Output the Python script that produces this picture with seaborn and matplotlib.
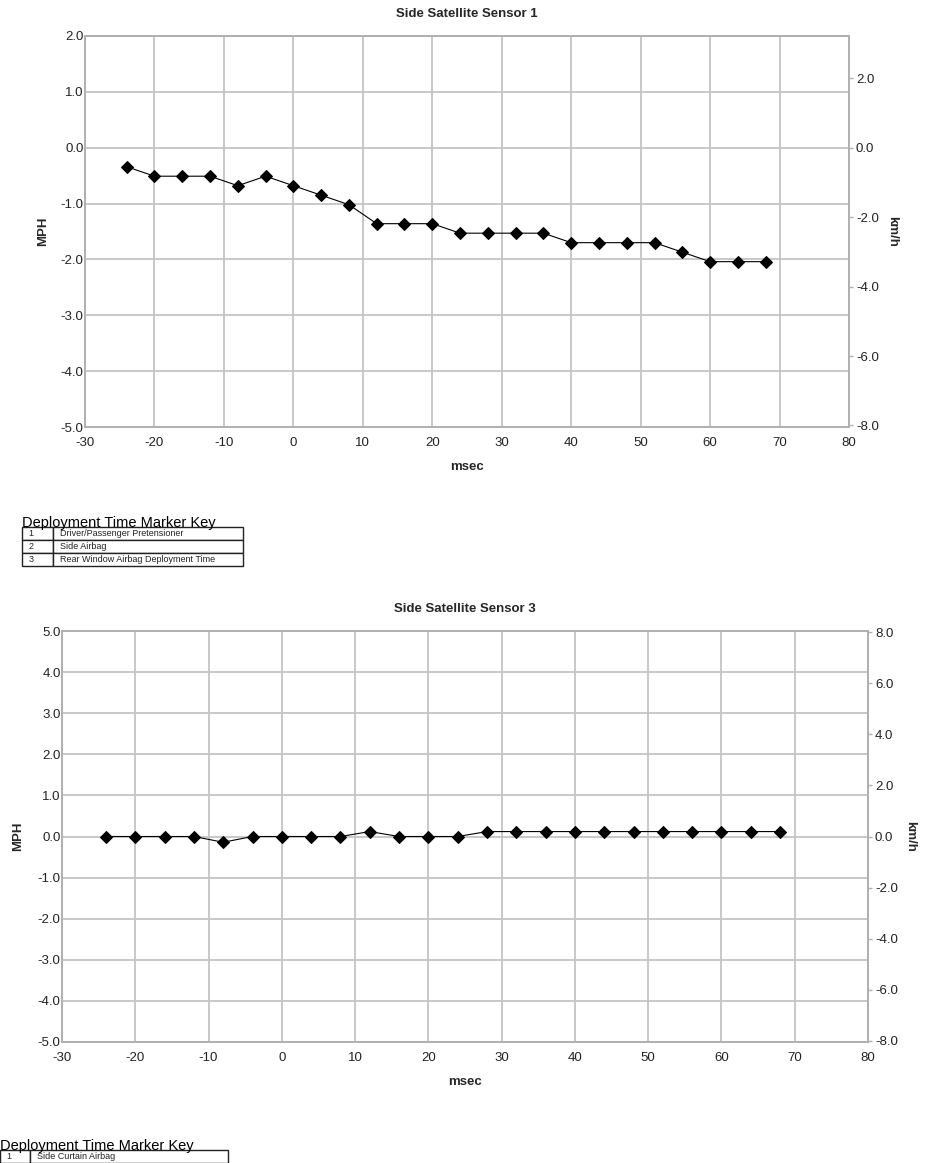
import matplotlib
matplotlib.use("Agg")
import matplotlib.pyplot as plt
import numpy as np
import pandas as pd
import seaborn as sns

# time axis shared by both sensors (msec)
msec = [-24, -20, -16, -12, -8, -4, 0, 4, 8, 12, 16, 20,
        24, 28, 32, 36, 40, 44, 48, 52, 56, 60, 64, 68]

# delta-V readings in MPH
sensor1_mph = [-0.34, -0.51, -0.51, -0.51, -0.68, -0.51, -0.68, -0.85,
               -1.02, -1.36, -1.36, -1.36, -1.53, -1.53, -1.53, -1.53,
               -1.70, -1.70, -1.70, -1.70, -1.87, -2.04, -2.04, -2.04]
sensor3_mph = [0.0, 0.0, 0.0, 0.0, -0.14, 0.0, 0.0, 0.0,
               0.0, 0.12, 0.0, 0.0, 0.0, 0.12, 0.12, 0.12,
               0.12, 0.12, 0.12, 0.12, 0.12, 0.12, 0.12, 0.12]

x_ticks = [-30, -20, -10, 0, 10, 20, 30, 40, 50, 60, 70, 80]
s1_mph_ticks = [2, 1, 0, -1, -2, -3, -4, -5]
s1_kmh_ticks = [2, 0, -2, -4, -6, -8]
s3_mph_ticks = [5, 4, 3, 2, 1, 0, -1, -2, -3, -4, -5]
s3_kmh_ticks = [8, 6, 4, 2, 0, -2, -4, -6, -8]

key1 = [["1", "Driver/Passenger Pretensioner"],
        ["2", "Side Airbag"],
        ["3", "Rear Window Airbag Deployment Time"]]
key3 = [["1", "Side Curtain Airbag"]]

MPH_TO_KMH = 1.609

sns.set_style("white")
plt.rcParams['font.family'] = ['Liberation Sans', 'DejaVu Sans']
plt.rcParams['axes.unicode_minus'] = False

W, H = 927, 1163
fig = plt.figure(figsize=(W / 100, H / 100), dpi=100)


def px_axes(left, top, right, bottom):
    return fig.add_axes([left / W, 1 - bottom / H, (right - left) / W, (bottom - top) / H])


GRID = '#c4c4c4'
TXT = '#222222'


def sensor_panel(rect, title, values, mph_lim, mph_ticks, kmh_ticks, ylab_pad, rlab_pad):
    ax = px_axes(*rect)
    df = pd.DataFrame({'msec': msec, 'mph': values})
    sns.lineplot(data=df, x='msec', y='mph', ax=ax, color='black', linewidth=0.8,
                 marker='D', markersize=6, markeredgecolor='black')
    ax.set_xlim(-30, 80)
    ax.set_ylim(*mph_lim)
    ax.set_xticks(x_ticks)
    ax.set_yticks(mph_ticks)
    ax.set_yticklabels([f"{v:.1f}" for v in mph_ticks])
    ax.grid(True, color=GRID, linewidth=1.3)
    ax.set_axisbelow(True)
    for s in ax.spines.values():
        s.set_color('#b0b0b0')
        s.set_linewidth(1.2)
    ax.tick_params(axis='x', length=0, pad=7, labelsize=9.5, labelcolor=TXT)
    ax.tick_params(axis='y', length=0, pad=1, labelsize=9.5, labelcolor=TXT)
    ax.set_xlabel('msec', fontsize=9.5, fontweight='bold', labelpad=9)
    ax.set_ylabel('MPH', fontsize=9.5, fontweight='bold', labelpad=ylab_pad)
    ax.set_title(title, fontsize=9.5, fontweight='bold', pad=14)

    ax2 = ax.twinx()
    ax2.set_ylim(mph_lim[0] * MPH_TO_KMH, mph_lim[1] * MPH_TO_KMH)
    ax2.set_yticks(kmh_ticks)
    ax2.set_yticklabels([f"{v:.1f}" for v in kmh_ticks])
    ax2.tick_params(axis='y', length=3, width=1, color='#b0b0b0', pad=2,
                    labelsize=9.5, labelcolor=TXT)
    for s in ax2.spines.values():
        s.set_color('#b0b0b0')
        s.set_linewidth(1.2)
    ax2.set_ylabel('km/h', fontsize=9.5, fontweight='bold', rotation=270, labelpad=rlab_pad)
    return ax


def marker_key(left, top, right, bottom, col1_frac, rows):
    fig.text(left / W, 1 - top / H, 'Deployment Time Marker Key',
             fontsize=10.5, va='baseline', ha='left', color='black')
    tax = px_axes(left, top, right, bottom)
    tax.axis('off')
    tbl = tax.table(cellText=rows, colWidths=[col1_frac, 1 - col1_frac],
                    cellLoc='left', bbox=[0, 0, 1, 1])
    tbl.auto_set_font_size(False)
    tbl.set_fontsize(6.5)
    for (r, c), cell in tbl.get_celld().items():
        cell.set_linewidth(1.0)
        cell.set_edgecolor('#222222')
        cell.get_text().set_color('#222222')
        cell.PAD = 0.22 if c == 0 else 0.035


sensor_panel((85, 36, 849, 427), 'Side Satellite Sensor 1', sensor1_mph,
             (-5, 2), s1_mph_ticks, s1_kmh_ticks, ylab_pad=8, rlab_pad=14)
marker_key(22, 527, 243, 566, 31 / 221, key1)

sensor_panel((62, 631, 868, 1042), 'Side Satellite Sensor 3', sensor3_mph,
             (-5, 5), s3_mph_ticks, s3_kmh_ticks, ylab_pad=9.5, rlab_pad=13)
marker_key(0, 1150, 228, 1163, 30 / 228, key3)

fig.savefig('out.png', dpi=100, facecolor='white')
